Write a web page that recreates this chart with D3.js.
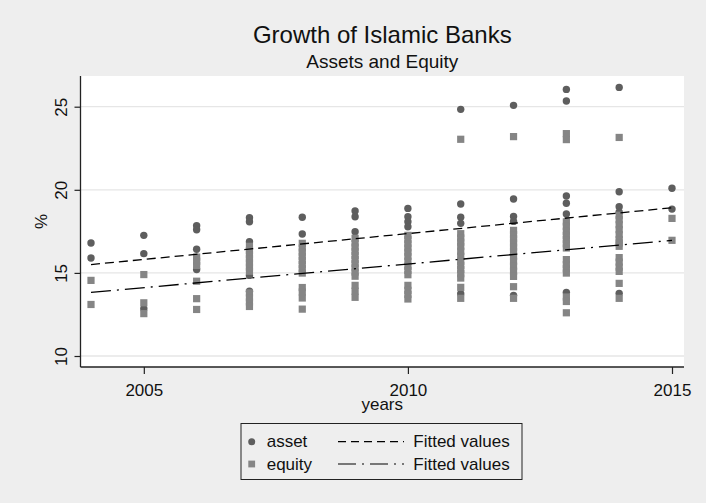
<!DOCTYPE html>
<html>
<head>
<meta charset="utf-8">
<script src="https://cdn.jsdelivr.net/npm/d3@7"></script>
<style>
  body { margin:0; background:#eeeeee; }
  svg { display:block; font-family:"Liberation Sans", Arial, Helvetica, sans-serif; }
</style>
</head>
<body>
<svg id="chart" width="706" height="503"></svg>
<script>
// data
var years = [2004,2005,2006,2007,2008,2009,2010,2011,2012,2013,2014,2015];

var assetByYear = [
  [16.8, 15.9],
  [17.26, 16.16, 12.85],
  [17.84, 17.6, 16.42, 15.2],
  [18.32, 18.08, 16.88, 14.85, 13.9],
  [18.35, 17.34],
  [18.72, 18.38, 17.48],
  [18.88, 18.38, 18.08, 17.78],
  [24.84, 19.15, 18.35, 17.98, 13.75],
  [25.08, 19.45, 18.4, 18.1, 13.65],
  [26.04, 25.34, 19.63, 19.19, 18.54, 13.83],
  [26.16, 19.88, 18.98, 18.65, 13.77],
  [20.09, 18.84]
];

var equityByYear = [
  [14.55, 13.1],
  [14.9, 13.2, 12.55],
  [15.95, 15.7, 15.45, 14.5, 13.45, 12.8],
  [16.6, 16.35, 16.1, 15.85, 15.6, 15.35, 15.1, 13.8, 13.5, 13.25, 12.98],
  [16.78, 16.5, 16.25, 16.0, 15.75, 15.5, 15.25, 14.99, 14.12, 13.85, 13.49, 12.82],
  [17.08, 16.8, 16.55, 16.3, 16.05, 15.8, 15.55, 15.3, 15.05, 14.8, 14.25, 13.9, 13.53],
  [17.26, 17.0, 16.75, 16.5, 16.25, 16.0, 15.7, 15.4, 15.15, 14.89, 14.25, 13.95, 13.7, 13.43],
  [23.04, 17.36, 17.1, 16.85, 16.6, 16.3, 16.0, 15.7, 15.45, 15.2, 14.95, 14.69, 14.13, 13.47],
  [23.2, 17.56, 17.3, 17.05, 16.8, 16.55, 16.3, 16.0, 15.7, 15.4, 15.1, 14.79, 14.17, 13.47],
  [23.38, 23.02, 18.07, 17.8, 17.5, 17.25, 17.0, 16.75, 16.5, 15.8, 15.5, 15.25, 14.99, 13.55, 13.28, 12.6],
  [23.15, 18.47, 18.2, 17.9, 17.6, 17.3, 17.0, 16.8, 16.6, 15.92, 15.65, 15.35, 15.09, 14.37, 13.47],
  [18.28, 16.96]
];

// fitted lines, endpoints
var fitYears = [2004, 2015];
var fitAsset = [15.5, 18.92];
var fitEquity = [13.83, 16.96];

var yTicks = [10, 15, 20, 25];
var xTicks = [2005, 2010, 2015];

var svg = d3.select("#chart");

var box = { left:80.5, right:684, top:76, bottom:367 };

var xScale = d3.scaleLinear().domain([2004, 2015]).range([91, 672]);
var yScale = d3.scaleLinear().domain([10, 25]).range([356, 106.7]);

var assetCol = "#5e5e5e";
var equityCol = "#858585";

// plot region
svg.append("rect")
  .attr("x", box.left).attr("y", box.top)
  .attr("width", box.right - box.left).attr("height", box.bottom - box.top)
  .attr("fill", "#ffffff");

// gridlines
svg.append("g").selectAll("line")
  .data(yTicks)
  .enter()
  .append("line")
  .attr("x1", box.left).attr("x2", box.right)
  .attr("y1", function(d){ return yScale(d); })
  .attr("y2", function(d){ return yScale(d); })
  .attr("stroke", "#e6e6e6")
  .attr("stroke-width", 1.3);

// titles
svg.append("text")
  .attr("x", (box.left + box.right) / 2).attr("y", 43)
  .attr("text-anchor", "middle")
  .attr("font-size", "24px")
  .attr("fill", "#111")
  .text("Growth of Islamic Banks");
svg.append("text")
  .attr("x", (box.left + box.right) / 2).attr("y", 68.3)
  .attr("text-anchor", "middle")
  .attr("font-size", "19px")
  .attr("fill", "#111")
  .text("Assets and Equity");

// points
var assetPts = years.flatMap(function(yr, i){
  return assetByYear[i].map(function(v){ return { year:yr, v:v }; });
});
var equityPts = years.flatMap(function(yr, i){
  return equityByYear[i].map(function(v){ return { year:yr, v:v }; });
});

svg.append("g").selectAll("circle")
  .data(assetPts)
  .enter()
  .append("circle")
  .attr("cx", function(d){ return xScale(d.year); })
  .attr("cy", function(d){ return yScale(d.v); })
  .attr("r", 3.7)
  .attr("fill", assetCol);

var sq = 7.2;
svg.append("g").selectAll("rect")
  .data(equityPts)
  .enter()
  .append("rect")
  .attr("x", function(d){ return xScale(d.year) - sq/2; })
  .attr("y", function(d){ return yScale(d.v) - sq/2; })
  .attr("width", sq).attr("height", sq)
  .attr("fill", equityCol);

// fitted lines
var line = d3.line()
  .x(function(d){ return xScale(d[0]); })
  .y(function(d){ return yScale(d[1]); });

svg.append("path")
  .datum(d3.zip(fitYears, fitAsset))
  .attr("d", line)
  .attr("fill", "none")
  .attr("stroke", "#000")
  .attr("stroke-width", 1.3)
  .attr("stroke-dasharray", "9,5");

svg.append("path")
  .datum(d3.zip(fitYears, fitEquity))
  .attr("d", line)
  .attr("fill", "none")
  .attr("stroke", "#000")
  .attr("stroke-width", 1.3)
  .attr("stroke-dasharray", "20,6,2,6");

// axes
var yAxis = svg.append("g")
  .attr("transform", "translate(" + box.left + ",0)")
  .call(d3.axisLeft(yScale).tickValues(yTicks).tickSize(6).tickSizeOuter(0));
yAxis.select(".domain").remove();
yAxis.selectAll("line").attr("stroke", "#222").attr("stroke-width", 1.2);
yAxis.selectAll("text")
  .attr("font-size", "17px")
  .attr("fill", "#111")
  .attr("font-family", "Liberation Sans, Arial, sans-serif")
  .attr("text-anchor", "middle")
  .attr("x", 0).attr("y", -13.5).attr("dy", 0)
  .attr("transform", "rotate(-90)");

var xAxis = svg.append("g")
  .attr("transform", "translate(0," + box.bottom + ")")
  .call(d3.axisBottom(xScale).tickValues(xTicks).tickSize(7).tickSizeOuter(0).tickFormat(d3.format("d")));
xAxis.select(".domain").remove();
xAxis.selectAll("line").attr("stroke", "#222").attr("stroke-width", 1.2);
xAxis.selectAll("text")
  .attr("font-size", "17px")
  .attr("fill", "#111")
  .attr("font-family", "Liberation Sans, Arial, sans-serif")
  .attr("y", 28.7).attr("dy", 0);

svg.append("line")
  .attr("x1", box.left).attr("x2", box.left)
  .attr("y1", box.top).attr("y2", box.bottom)
  .attr("stroke", "#222").attr("stroke-width", 1.3);
svg.append("line")
  .attr("x1", box.left).attr("x2", box.right)
  .attr("y1", box.bottom).attr("y2", box.bottom)
  .attr("stroke", "#222").attr("stroke-width", 1.3);

// axis titles
svg.append("text")
  .attr("transform", "translate(46.7," + ((box.top + box.bottom) / 2) + ") rotate(-90)")
  .attr("text-anchor", "middle")
  .attr("font-size", "17px")
  .attr("fill", "#111")
  .text("%");
svg.append("text")
  .attr("x", (box.left + box.right) / 2).attr("y", 409.5)
  .attr("text-anchor", "middle")
  .attr("font-size", "17px")
  .attr("fill", "#111")
  .text("years");

// legend
var lg = svg.append("g").classed("legend", true);
lg.append("rect")
  .attr("x", 241).attr("y", 423.5)
  .attr("width", 281).attr("height", 56)
  .attr("fill", "#eeeeee")
  .attr("stroke", "#222").attr("stroke-width", 1);

var rows = [
  { name:"asset", mark:"circle", dash:"8,5", cy:441.7 },
  { name:"equity", mark:"square", dash:"18,6,2,6", cy:464 }
];
rows.forEach(function(r){
  if (r.mark == "circle") {
    lg.append("circle").attr("cx", 251.7).attr("cy", r.cy).attr("r", 3.5).attr("fill", assetCol);
  } else {
    lg.append("rect").attr("x", 251.7 - 3.4).attr("y", r.cy - 3.4)
      .attr("width", 6.8).attr("height", 6.8).attr("fill", equityCol);
  }
  lg.append("text").attr("x", 266.7).attr("y", r.cy + 5.5)
    .attr("font-size", "17px").attr("fill", "#111").text(r.name);
  lg.append("line").attr("x1", 338).attr("x2", 404)
    .attr("y1", r.cy).attr("y2", r.cy)
    .attr("stroke", "#000").attr("stroke-width", 1.2)
    .attr("stroke-dasharray", r.dash);
  lg.append("text").attr("x", 413.3).attr("y", r.cy + 5.5)
    .attr("font-size", "17px").attr("fill", "#111").text("Fitted values");
});
</script>
</body>
</html>
